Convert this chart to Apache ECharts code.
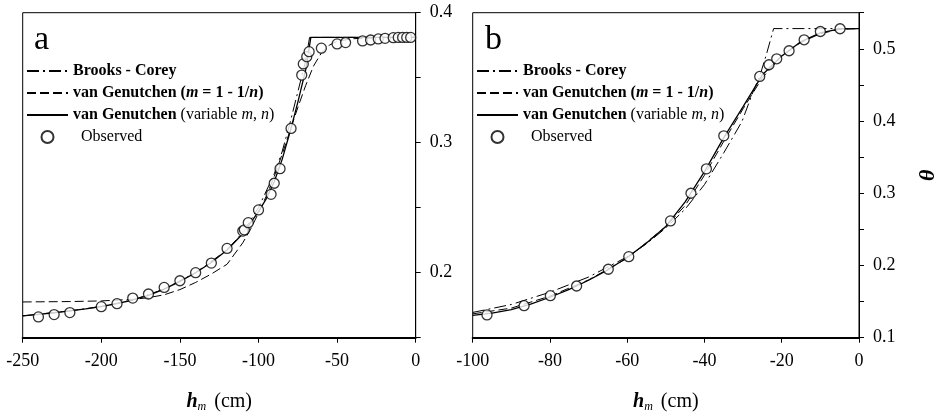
<!DOCTYPE html>
<html>
<head>
<meta charset="utf-8">
<script src="https://cdn.jsdelivr.net/npm/echarts@6/dist/echarts.min.js"></script>
<style>
html,body{margin:0;padding:0;background:#fff;}
#chart{width:940px;height:419px;}
</style>
</head>
<body>
<div id="chart"></div>
<script>
// ---------- DATA ----------
const seriesNames = ['Brooks - Corey', 'van Genutchen (m = 1 - 1/n)', 'van Genutchen (variable m, n)', 'Observed'];
const panelLabels = ['a', 'b'];

// Panel a : h_m (cm) vs theta
const aObserved = [[-240,0.166],[-230,0.1678],[-220,0.1693],[-200,0.1739],[-190,0.1762],[-180,0.1805],[-170,0.1836],
  [-160,0.1887],[-150,0.1938],[-140,0.200],[-130,0.2074],[-120,0.2187],[-110,0.232],[-109,0.233],[-106.5,0.2385],
  [-100,0.2483],[-92,0.2603],[-90,0.2688],[-86.3,0.280],[-79.3,0.311],[-72.5,0.352],[-71.5,0.3606],[-69.3,0.3662],
  [-67.8,0.370],[-60,0.3727],[-50,0.376],[-44.6,0.377],[-33.8,0.3783],[-28.7,0.379],[-23.8,0.3798],[-19.5,0.3803],
  [-14.3,0.3808],[-11.1,0.381],[-8.3,0.381],[-5.7,0.381],[-3.2,0.381]];
const aVariable = [[-250,0.1668],[-240,0.1680],[-230,0.1692],[-220,0.1706],[-210,0.1722],[-200,0.1740],[-190,0.1762],
  [-180,0.1790],[-170,0.1826],[-160,0.1874],[-150,0.1933],[-140,0.2000],[-130,0.2078],[-120,0.2175],[-110,0.2300],
  [-100,0.2470],[-95,0.2570],[-90,0.2700],[-85,0.2870],[-80,0.3080],[-75,0.3310],[-70,0.3560],[-66.7,0.3810],[0,0.3810]];
const aFixed = [[-250,0.1775],[-220,0.1778],[-200,0.1783],[-180,0.1795],[-170,0.1808],[-160,0.1830],[-150,0.1870],
  [-140,0.1925],[-130,0.1990],[-120,0.2065],[-110,0.2230],[-105,0.2335],[-100,0.2460],[-95,0.2590],[-90,0.2740],
  [-85,0.2910],[-80,0.3090],[-75,0.3270],[-70,0.3440],[-65,0.3590],[-60,0.3690],[-55,0.3750],[-50,0.3780],
  [-40,0.3800],[-20,0.3808],[0,0.3810]];
const aBrooks = [[-250,0.1668],[-220,0.1706],[-200,0.1740],[-180,0.1790],[-160,0.1874],[-140,0.2000],[-120,0.2175],
  [-110,0.2310],[-100,0.2500],[-90,0.2760],[-85,0.2930],[-80,0.3150],[-75,0.3390],[-70,0.3630],[-67.5,0.3810],[0,0.3810]];

// Panel b
const bObserved = [[-96.3,0.1315],[-86.7,0.1443],[-79.9,0.1582],[-73.1,0.1716],[-64.9,0.1948],[-59.6,0.2122],
  [-48.8,0.2617],[-43.5,0.300],[-39.5,0.3338],[-35,0.3795],[-25.7,0.4617],[-23.3,0.4779],[-21.3,0.4862],
  [-18.1,0.4973],[-14.2,0.5125],[-10,0.524],[-4.9,0.5278]];
const bVariable = [[-100,0.1310],[-95,0.1340],[-90,0.1390],[-85,0.1465],[-80,0.1560],[-75,0.1670],[-70,0.1795],
  [-65,0.1940],[-60,0.2110],[-55,0.2310],[-50,0.2540],[-45,0.2880],[-40,0.3300],[-35,0.3770],[-30,0.4200],
  [-25,0.4640],[-20,0.4900],[-15,0.5100],[-10,0.5220],[-5,0.5275],[0,0.5280]];
const bFixed = [[-100,0.1330],[-90,0.1410],[-80,0.1575],[-70,0.1800],[-60,0.2100],[-50,0.2540],[-45,0.2830],
  [-40,0.3250],[-35,0.3720],[-30,0.4170],[-25,0.4600],[-20,0.4900],[-15,0.5090],[-10,0.5210],[-5,0.5270],[0,0.5280]];
const bBrooks = [[-100,0.1350],[-90,0.1460],[-80,0.1630],[-70,0.1840],[-60,0.2120],[-55,0.2300],[-50,0.2520],
  [-45,0.2780],[-40,0.3120],[-35,0.3560],[-30.3,0.3993],[-27.4,0.4409],[-25.7,0.4620],[-24,0.4917],[-22.1,0.5280],[0,0.5280]];

// Axis settings (tick values)
const aX = {min:-250, max:0, interval:50};
const aY = {min:0.15, max:0.4, interval:0.05};
const bX = {min:-100, max:0, interval:20};
const bY = {min:0.1, max:0.55, interval:0.05};

// ---------- CHART ----------
const SERIF = '"Liberation Serif", "DejaVu Serif", serif';
const chart = echarts.init(document.getElementById('chart'), null, {renderer:'canvas'});

const grids = [
  {left:22.7, top:12.7, width:393, height:325},
  {left:472.7, top:12.7, width:393.3, height:325}
];
grids.forEach(g => { g.show = true; g.borderColor = '#000'; g.borderWidth = 1; g.backgroundColor = 'transparent'; });

function yFmt(v){ const t = v*10; return Math.abs(t - Math.round(t)) < 1e-6 ? v.toFixed(1) : ''; }

function xAxis(idx, cfg){
  return {
    type:'value', gridIndex:idx, min:cfg.min, max:cfg.max, interval:cfg.interval, position:'bottom',
    axisLine:{show:true, onZero:false, lineStyle:{color:'#000', width:2}},
    axisTick:{show:true, inside:false, length:5, lineStyle:{color:'#000', width:1}},
    splitLine:{show:false},
    axisLabel:{color:'#000', fontFamily:SERIF, fontSize:18, margin:15},
    name:'{h|h}{m|m} (cm)', nameLocation:'middle', nameGap:53,
    nameTextStyle:{color:'#000', fontFamily:SERIF, fontSize:20,
      rich:{h:{fontFamily:SERIF, fontSize:20, fontStyle:'italic', fontWeight:'bold', color:'#000'},
            m:{fontFamily:SERIF, fontSize:12, fontStyle:'italic', verticalAlign:'bottom', padding:[10,3,0,0], color:'#000'}}}
  };
}
function yAxis(idx, cfg, withName){
  const ax = {
    type:'value', gridIndex:idx, min:cfg.min, max:cfg.max, interval:cfg.interval, position:'right',
    axisLine:{show:true, lineStyle:{color:'#000', width:1}},
    axisTick:{show:true, inside:false, length:5, lineStyle:{color:'#000', width:1}},
    splitLine:{show:false},
    axisLabel:{color:'#000', fontFamily:SERIF, fontSize:18, margin:14, formatter:yFmt}
  };
  if (withName){
    ax.name = 'θ'; ax.nameLocation = 'middle'; ax.nameGap = 58; ax.nameRotate = 90;
    ax.nameTextStyle = {color:'#000', fontFamily:SERIF, fontSize:22, fontStyle:'italic', fontWeight:'bold'};
  }
  return ax;
}

function lineSeries(name, data, idx, type, width){
  return {name:name, type:'line', xAxisIndex:idx, yAxisIndex:idx, data:data, symbol:'none', smooth:false,
    lineStyle:{color:'#000', width:width, type:type}, itemStyle:{color:'#000'}, z:2, animation:false};
}
function scatterSeries(name, data, idx){
  return {name:name, type:'scatter', xAxisIndex:idx, yAxisIndex:idx, data:data, symbol:'circle', symbolSize:10,
    itemStyle:{color:'#fff', borderColor:'#000', borderWidth:1.3}, z:3, animation:false};
}

const dashDot = [12,4,2,4];
const dashed = [9,4];

const series = [
  lineSeries(seriesNames[0], aBrooks, 0, dashDot, 1),
  lineSeries(seriesNames[1], aFixed, 0, dashed, 1),
  lineSeries(seriesNames[2], aVariable, 0, 'solid', 1.3),
  scatterSeries(seriesNames[3], aObserved, 0),
  lineSeries(seriesNames[0], bBrooks, 1, dashDot, 1),
  lineSeries(seriesNames[1], bFixed, 1, dashed, 1),
  lineSeries(seriesNames[2], bVariable, 1, 'solid', 1.3),
  scatterSeries(seriesNames[3], bObserved, 1)
];

function legendFmt(name){
  if (name === seriesNames[0]) return '{b|Brooks - Corey}';
  if (name === seriesNames[1]) return '{b|van Genutchen (}{bi|m}{b| = 1 - 1/}{bi|n}{b|)}';
  if (name === seriesNames[2]) return '{b|van Genutchen }{r|(variable }{i|m}{r|, }{i|n}{r|)}';
  return '{r|  Observed}';
}
const legendRich = {
  b:{fontFamily:SERIF, fontSize:16, fontWeight:'bold', color:'#000'},
  bi:{fontFamily:SERIF, fontSize:16, fontWeight:'bold', fontStyle:'italic', color:'#000'},
  r:{fontFamily:SERIF, fontSize:16, color:'#000'},
  i:{fontFamily:SERIF, fontSize:16, fontStyle:'italic', color:'#000'}
};
const hideSym = {color:'rgba(0,0,0,0)', borderColor:'rgba(0,0,0,0)', borderWidth:0};
function legend(left){
  return {show:true, orient:'vertical', left:left, top:63, itemWidth:41, itemHeight:12, itemGap:6,
    padding:0, selectedMode:false,
    data:[
      {name:seriesNames[0], itemStyle:hideSym},
      {name:seriesNames[1], itemStyle:hideSym},
      {name:seriesNames[2], itemStyle:hideSym},
      {name:seriesNames[3]}
    ],
    formatter:legendFmt,
    textStyle:{fontFamily:SERIF, fontSize:16, color:'#000', lineHeight:16, rich:legendRich}, inactiveColor:'#000'};
}

const option = {
  backgroundColor:'#fff',
  animation:false,
  title:[
    {text:panelLabels[0], left:34, top:23, padding:0, textStyle:{fontFamily:SERIF, fontSize:34, fontWeight:'normal', color:'#000'}},
    {text:panelLabels[1], left:485, top:23, padding:0, textStyle:{fontFamily:SERIF, fontSize:34, fontWeight:'normal', color:'#000'}}
  ],
  legend:[legend(26), legend(476)],
  grid:grids,
  xAxis:[xAxis(0, aX), xAxis(1, bX)],
  yAxis:[yAxis(0, aY, false), yAxis(1, bY, true)],
  series:series
};
chart.setOption(option);
</script>
</body>
</html>
